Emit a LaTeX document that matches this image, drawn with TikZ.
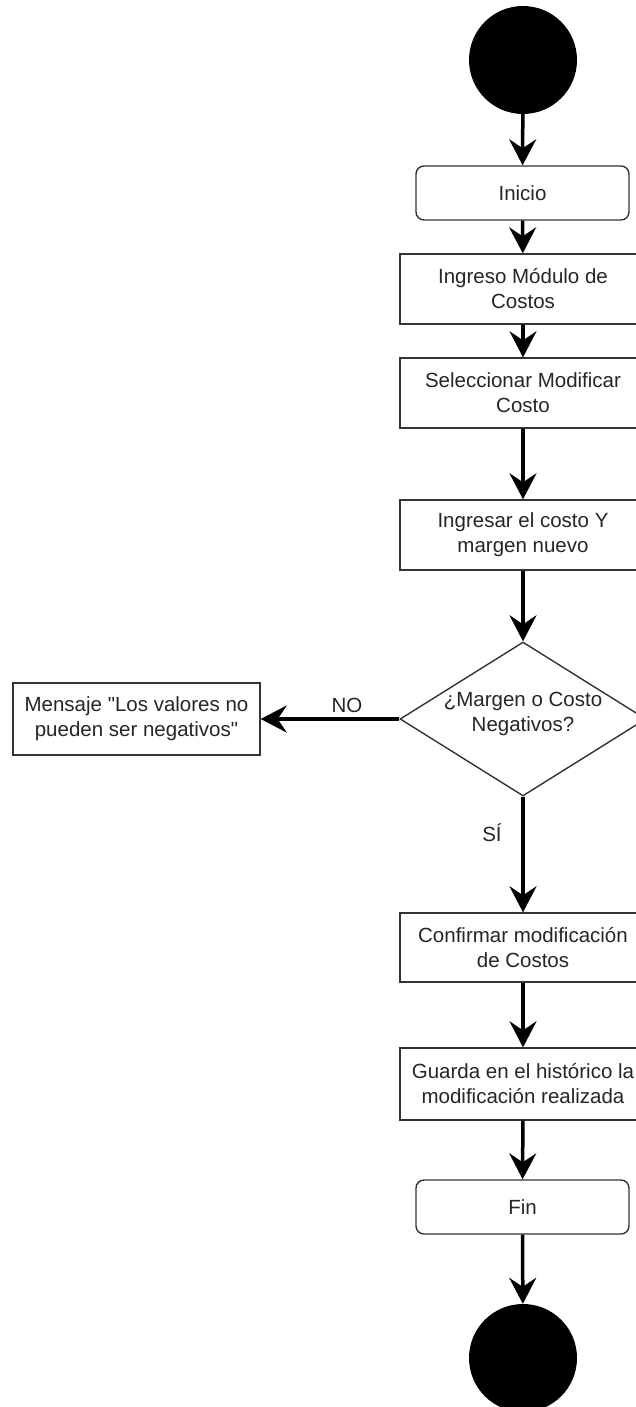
\documentclass[tikz,border=0pt]{standalone}
\usepackage{fontspec}
\setmainfont{Liberation Sans}
\usetikzlibrary{arrows.meta,shapes.geometric}

% straight double quote, set as a glyph so the TeX mapping leaves it alone
\newcommand{\sq}{\XeTeXglyph\XeTeXcharglyph"22\relax}

\begin{document}
\begin{tikzpicture}[x=1pt,y=-1pt,
  every node/.style={font=\fontsize{20.5}{25}\selectfont, text=black!85},
  stepbox/.style={draw=black!80, line width=1.4pt, fill=white, align=center,
    inner sep=0pt, minimum width=246pt, minimum height=70pt},
  roundbox/.style={stepbox, rounded corners=8pt, minimum width=213pt, minimum height=54pt},
  decision/.style={diamond, draw=black!80, line width=1.4pt, fill=white,
    inner sep=0pt, minimum width=246pt, minimum height=154pt},
  dot/.style={circle, fill=black, draw=none, inner sep=0pt, minimum size=108pt},
  flow/.style={line width=3.5pt, draw=black, -{Stealth[length=26pt, width=27pt, inset=9pt]}},
  tag/.style={inner sep=0pt}
]
\useasboundingbox (0,0) rectangle (636,1407);
\clip (0,0) rectangle (636,1407);

% activity nodes
\node[dot] (start) at (523,60) {};
\node[roundbox] (inicio) at (522.5,193) {Inicio};
\node[stepbox] (ingreso) at (523,289) {Ingreso Módulo de\\Costos};
\node[stepbox] (selec) at (523,393) {Seleccionar Modificar\\Costo};
\node[stepbox] (ingresar) at (523,535) {Ingresar el costo Y\\margen nuevo};
\node[decision] (check) at (523,719)
  {\smash{\makebox[0pt]{\begin{tabular}{@{}c@{}}¿Margen o Costo\\Negativos?\end{tabular}}}};
\node[stepbox, minimum width=247pt, minimum height=72pt] (msg) at (136.5,719)
  {Mensaje \sq Los valores no\\pueden ser negativos\sq};
\node[stepbox, minimum height=69pt] (confirm) at (523,947.5) {Confirmar modificación\\de Costos};
\node[stepbox, minimum height=72pt] (guarda) at (523,1084) {Guarda en el histórico la\\modificación realizada};
\node[roundbox] (fin) at (522.5,1207) {Fin};
\node[dot] (stop) at (523,1358) {};

% branch labels
\node[tag] (no) at (347,705) {NO};
\node[tag] (si) at (492,833) {SÍ};

% connectors
\draw[flow] (start) -- (inicio);
\draw[flow] (inicio) -- (ingreso);
\draw[flow] (ingreso) -- (selec);
\draw[flow] (selec) -- (ingresar);
\draw[flow] (ingresar) -- (check);
\draw[flow] (check) -- (msg);
\draw[flow] (check) -- (confirm);
\draw[flow] (confirm) -- (guarda);
\draw[flow] (guarda) -- (fin);
\draw[flow] (fin) -- (stop);
\end{tikzpicture}
\end{document}
